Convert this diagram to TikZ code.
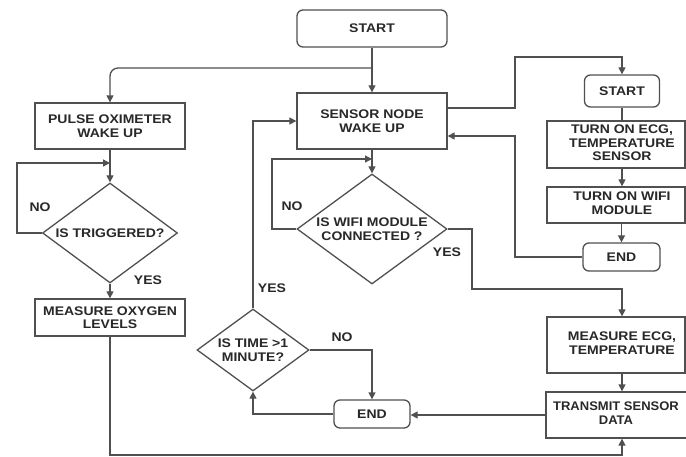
\documentclass[tikz,border=0pt]{standalone}
\usepackage{fontspec}
\setmainfont{Liberation Sans}[FakeStretch=1.12]
\usetikzlibrary{arrows.meta,shapes.geometric,calc}
\definecolor{linec}{RGB}{80,80,80}
\definecolor{textc}{RGB}{40,40,40}
\newcommand{\dtxt}[1]{\smash{\makebox[0pt]{\raisebox{-5pt}{\begin{tabular}{@{}c@{}}#1\end{tabular}}}}}
\newcommand{\rtxt}[1]{\begin{tabular}{@{\hspace{12pt}}c@{}}#1\end{tabular}}
\newcommand{\ltxt}[1]{\begin{tabular}{@{}c@{\hspace{12pt}}}#1\end{tabular}}
\begin{document}
\begin{tikzpicture}[x=1pt,y=-1pt,
  every node/.style={font=\fontsize{12.5}{13.5}\selectfont\bfseries, text=textc},
  box/.style={draw=linec, line width=1.3pt, rectangle, inner sep=0pt, align=center},
  term/.style={box, rounded corners=6pt},
  dec/.style={draw=linec, line width=1.3pt, diamond, inner sep=0pt},
  lab/.style={inner sep=0pt},
  line/.style={draw=linec, line width=1.3pt},
  arr/.style={line, -{Triangle[length=7pt,width=7pt]}}]
\useasboundingbox (0,0) rectangle (686,457);
\clip (0,0) rectangle (686,457);

% nodes
\node[term, minimum width=150, minimum height=37] (start) at (372,28.5) {START};
\node[box, minimum width=150, minimum height=46] (pulse) at (110,126) {PULSE OXIMETER\\WAKE UP};
\node[dec, minimum width=135, minimum height=100] (trig) at (110,233) {\dtxt{IS TRIGGERED?}};
\node[box, minimum width=150, minimum height=37] (oxy) at (110,317.5) {MEASURE OXYGEN\\LEVELS};
\node[box, minimum width=150, minimum height=56] (sensor) at (372,121) {SENSOR NODE\\WAKE UP};
\node[dec, minimum width=150, minimum height=110] (wifi) at (372,229) {\dtxt{IS WIFI MODULE\\CONNECTED ?}};
\node[dec, minimum width=112, minimum height=82] (time) at (253,350) {\dtxt{IS TIME >1\\MINUTE?}};
\node[term, minimum width=76, minimum height=28] (end1) at (372,414) {END};
\node[term, minimum width=75, minimum height=32] (start2) at (622,91) {START};
\node[box, minimum width=138, minimum height=47] (ecgon) at (616,144.5) {\rtxt{TURN ON ECG,\\TEMPERATURE\\SENSOR}};
\node[box, minimum width=138, minimum height=36] (wifion) at (616,205) {\rtxt{TURN ON WIFI\\MODULE}};
\node[term, minimum width=77, minimum height=28] (end2) at (621.5,257) {END};
\node[box, minimum width=138, minimum height=56] (meas) at (616,345) {\rtxt{MEASURE ECG,\\TEMPERATURE}};
\node[box, minimum width=152, minimum height=46] (trans) at (622,415) {\addfontfeature{FakeStretch=1.04}\ltxt{TRANSMIT SENSOR\\DATA}};

% labels
\node[lab] (no1) at (40,207) {NO};
\node[lab] (yes1) at (148,280) {YES};
\node[lab] (no2) at (292,206) {NO};
\node[lab] (yes2) at (447,252) {YES};
\node[lab] (yes3) at (272,288) {YES};
\node[lab] (no3) at (342,337) {NO};

% coordinates
\coordinate (br) at (372,68);
\coordinate (tl) at (17,163);
\coordinate (bl) at (110,455);
\coordinate (nl) at (272,159);
\coordinate (yr) at (472,289);
\coordinate (ru) at (515,57);
\coordinate (rr) at (515,136);

% connectors
\draw[arr] (start) -- (sensor);
\draw[arr, rounded corners=8pt] (br) -| (pulse.north);
\draw[arr] (pulse) -- (trig);
\draw[arr] (trig.west) -| (tl) -- (tl -| trig.north);
\draw[arr] (trig.south) -- (oxy.north);
\draw[arr] (oxy.south) -- (oxy.south |- bl) -| (trans.south);
\draw[arr] (sensor) -- (wifi);
\draw[arr] (wifi.west) -| (nl) -- (nl -| wifi.north);
\draw[arr] (wifi.east) -| (yr) -| (meas.north -| trans.north);
\draw[arr] ($(sensor.east)+(0,-13)$) -| (ru) -| (start2.north);
\draw[line] (start2) -- (start2 |- ecgon.north);
\draw[arr] (ecgon.south -| start2) -- (wifion.north -| start2);
\draw[arr] (wifion.south -| end2) -- (end2);
\draw[arr] (end2.west) -| (rr) -- (rr -| sensor.east);
\draw[arr] (meas.south -| trans) -- (trans);
\draw[arr] (trans.west) -- (trans.west -| end1.east);
\draw[arr] (end1.west) -| (time.south);
\draw[arr] (time.north) |- (sensor.west);
\draw[arr] (time.east) -| (end1.north);
\end{tikzpicture}
\end{document}
